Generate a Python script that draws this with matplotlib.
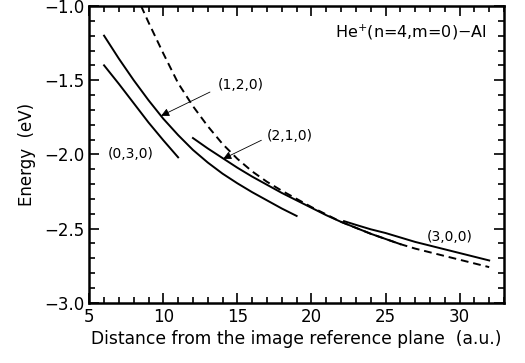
import matplotlib
matplotlib.use("Agg")
import matplotlib.pyplot as plt
from matplotlib.ticker import MultipleLocator

# ---- data ----
x030 = [6, 7, 8, 9, 10, 11]
e030 = [-1.40, -1.525, -1.655, -1.785, -1.905, -2.02]

x120 = [6, 7, 8, 9, 10, 11, 12, 13, 14, 15, 16, 17, 18, 19]
e120 = [-1.20, -1.355, -1.50, -1.635, -1.76, -1.87, -1.97, -2.055,
        -2.13, -2.195, -2.255, -2.31, -2.365, -2.415]

x210 = [12, 13, 14, 15, 16, 17, 18, 19, 20, 21, 22, 23, 24, 25, 26]
e210 = [-1.89, -1.96, -2.025, -2.09, -2.15, -2.205, -2.26, -2.31,
        -2.36, -2.41, -2.455, -2.495, -2.535, -2.57, -2.605]

x300 = [22.2, 23, 24, 25, 26, 27, 28, 29, 30, 31, 32]
e300 = [-2.45, -2.475, -2.505, -2.53, -2.56, -2.59, -2.615, -2.64,
        -2.665, -2.69, -2.715]

xdash = [8.5, 9, 10, 11, 12, 13, 14, 15, 16, 17, 18, 19, 20, 21, 22,
         23, 24, 25, 26, 27, 28, 29, 30, 31, 32]
edash = [-1.00, -1.11, -1.32, -1.52, -1.675, -1.81, -1.93, -2.03, -2.115,
         -2.185, -2.245, -2.30, -2.355, -2.405, -2.455, -2.495, -2.535,
         -2.57, -2.605, -2.635, -2.66, -2.685, -2.71, -2.735, -2.76]

xticks = [5, 10, 15, 20, 25, 30]
yticks = [-3.0, -2.5, -2.0, -1.5, -1.0]

fig = plt.figure(figsize=(5.25, 3.63), dpi=100)
ax = fig.add_axes([0.170, 0.166, 0.790, 0.8175])

lw = 1.4
ax.plot(x030, e030, color="black", lw=lw)
ax.plot(x120, e120, color="black", lw=lw)
ax.plot(x210, e210, color="black", lw=lw)
ax.plot(x300, e300, color="black", lw=lw)
ax.plot(xdash, edash, color="black", lw=lw, ls=(0, (4, 2.5)))

ax.set_xlim(5, 33)
ax.set_ylim(-3.0, -1.0)
ax.set_xticks(xticks)
ax.set_yticks(yticks)
ax.set_xticklabels([str(v) for v in xticks])
ax.set_yticklabels(["\u2212%.1f" % abs(v) for v in yticks])
ax.xaxis.set_minor_locator(MultipleLocator(1))
ax.yaxis.set_minor_locator(MultipleLocator(0.1))
ax.tick_params(which="both", direction="in", top=True, right=True,
               labelsize=12, width=1.2)
ax.tick_params(which="major", length=7)
ax.tick_params(which="minor", length=4)
ax.tick_params(axis="x", pad=4)
for s in ax.spines.values():
    s.set_linewidth(1.8)

ax.set_xlabel("Distance from the image reference plane  (a.u.)", fontsize=12.3,
              labelpad=3)
ax.set_ylabel("Energy  (eV)", fontsize=12, labelpad=6)

fs = 10
ax.text(7.82, -2.0, "(0,3,0)", fontsize=fs, ha="center", va="center")
ax.text(29.3, -2.56, "(3,0,0)", fontsize=fs, ha="center", va="center")
ax.text(15.25, -1.53, "(1,2,0)", fontsize=fs, ha="center", va="center")
ax.text(18.55, -1.875, "(2,1,0)", fontsize=fs, ha="center", va="center")
ax.text(31.8, -1.18, "He$^{+}$(n=4,m=0)\u2212Al", fontsize=11.5,
        ha="right", va="center")

arrowprops = dict(arrowstyle="-|>", color="black", lw=0.6,
                  mutation_scale=12, shrinkA=0, shrinkB=0)
ax.annotate("", xy=(9.85, -1.74), xytext=(13.15, -1.58),
            arrowprops=arrowprops)
ax.annotate("", xy=(14.04, -2.03), xytext=(16.62, -1.905),
            arrowprops=arrowprops)

fig.savefig("out.png", dpi=100)
